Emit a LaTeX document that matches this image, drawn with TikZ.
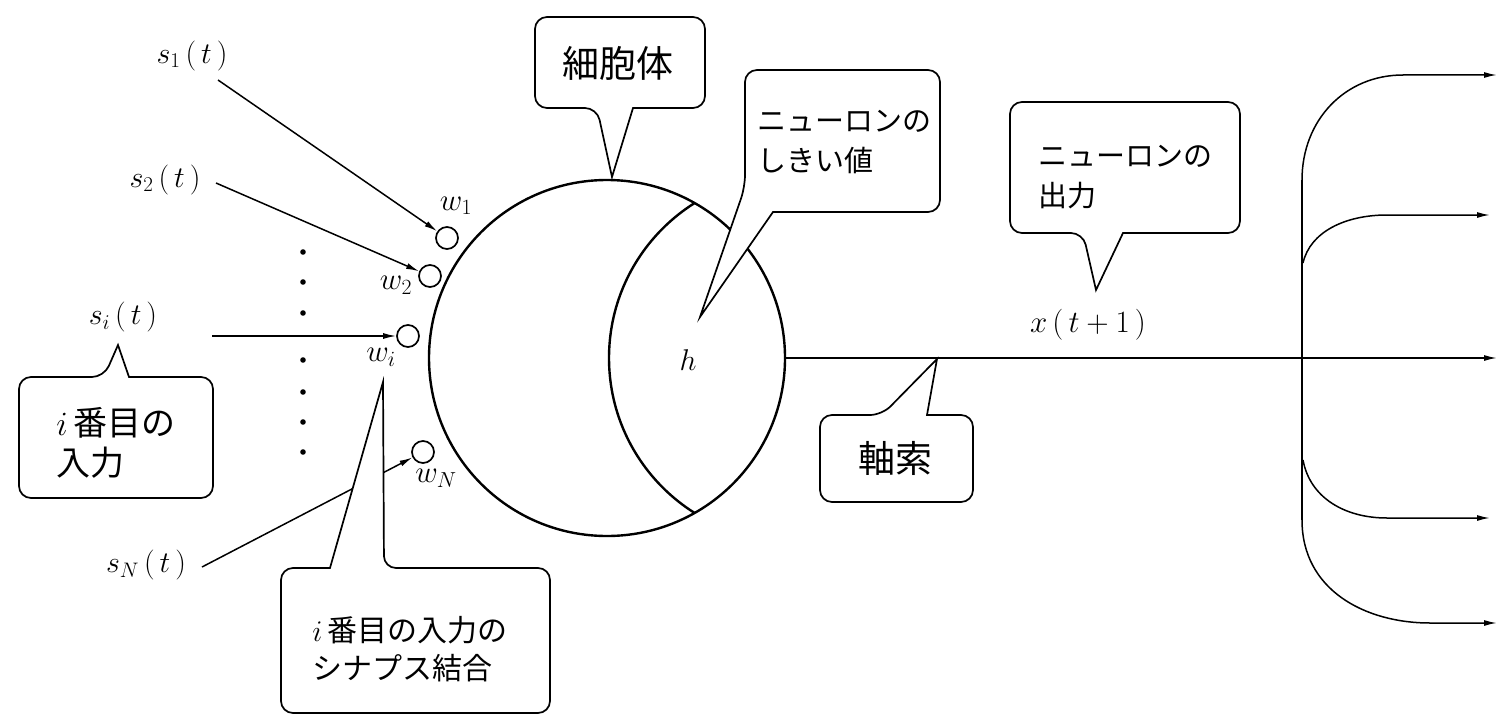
\documentclass[tikz,border=0pt]{standalone}
\usepackage{fix-cm}
\usepackage{fontspec}
\newfontfamily\jp{Noto Sans CJK JP}
\usetikzlibrary{arrows.meta}
\tikzset{
  lbl/.style={inner sep=0pt, font=\fontsize{30}{34}\selectfont},
  wlbl/.style={inner sep=0pt, font=\fontsize{31}{34}\selectfont},
  jtxt/.style={inner sep=0pt, align=left, font={\jp\fontsize{29}{40}\selectfont}},
  jbig/.style={inner sep=0pt, align=left, font={\jp\fontsize{37}{44}\selectfont}},
  callout/.style={draw, fill=white, line width=1.7pt},
  arr/.style={-{Latex[length=13pt,width=6pt]}, line width=1.5pt},
  syn/.style={circle, draw, line width=1.7pt, minimum size=22pt, inner sep=0pt},
  thick2/.style={line width=2.4pt}
}
\begin{document}
\begin{tikzpicture}[x=1pt,y=-1pt]
\useasboundingbox (0,0) rectangle (1505,717);

% soma and threshold arc
\node[circle, draw, thick2, minimum size=356pt, inner sep=0pt] (soma) at (607,358) {};
\begin{scope}
  \clip (607,358) circle (178pt);
  \draw[thick2] (792,358) circle (183pt);
\end{scope}
\node[lbl] (h) at (688,360) {$h$};

% output coordinates
\coordinate (o1) at (1497,75);
\coordinate (o2) at (1490,215);
\coordinate (o3) at (1497,358);
\coordinate (o4) at (1490,518);
\coordinate (o5) at (1497,623);
\coordinate (trtop) at (1302,180);
\coordinate (trbot) at (1302,520);
\coordinate (b2) at (1303,263);
\coordinate (b4) at (1303,460);
\coordinate (c1) at (1403,75);
\coordinate (c2) at (1387,215);
\coordinate (c4) at (1387,518);
\coordinate (c5) at (1430,623);

% axon
\draw[arr] (soma.east) -- (o3);
\node[lbl, font=\fontsize{31}{36}\selectfont] (xout) at (1088,325) {$x\,(\,t+1\,)$};

% branches
\draw[line width=1.5pt] (trtop) -- (trbot);
\draw[arr] (trtop) .. controls (1302,120) and (1345,75) .. (c1) -- (o1);
\draw[arr] (b2) .. controls (1310,232) and (1345,215) .. (c2) -- (o2);
\draw[arr] (b4) .. controls (1310,498) and (1345,518) .. (c4) -- (o4);
\draw[arr] (trbot) .. controls (1302,590) and (1365,623) .. (c5) -- (o5);

% synapses
\node[syn] (w1) at (447,238) {};
\node[syn] (w2) at (430,276) {};
\node[syn] (wi) at (408,336) {};
\node[syn] (wN) at (423,452) {};
\node[wlbl] (lw1) at (456,206) {$w_1$};
\node[wlbl] (lw2) at (396,285) {$w_2$};
\node[wlbl] (lwi) at (381,357) {$w_i$};
\node[wlbl] (lwN) at (436,478) {$w_N$};

% inputs
\node[lbl] (s1) at (192,56) {$s_1\,(\,t\,)$};
\node[lbl] (s2) at (165,180) {$s_2\,(\,t\,)$};
\node[lbl] (si) at (123,317) {$s_i\,(\,t\,)$};
\node[lbl] (sN) at (146,565) {$s_N\,(\,t\,)$};
\coordinate (s1a) at (218,80);
\coordinate (s2a) at (216,183);
\coordinate (sia) at (212,336);
\coordinate (sNa) at (202,567);
\draw[arr] (s1a) -- (w1);
\draw[arr] (s2a) -- (w2);
\draw[arr] (sia) -- (wi);
\draw[arr] (sNa) -- (wN);

% dots
\foreach \yy in {252,282,313,360,392,422,452}
  \fill (303,\yy) circle (2.8pt);

% callouts
\draw[callout] (633,108) [rounded corners=12pt] -- (705,108) -- (705,17) -- (535,17) -- (535,108) -- (597,108) [sharp corners] -- (612,177) -- cycle;
\node[jbig] (tsoma) at (618,63) {細胞体};

\draw[callout] (773,212) [rounded corners=12pt] -- (940,212) -- (940,70) -- (745,70) -- (745,187) [sharp corners] -- (700,317) -- cycle;
\node[jtxt] (tth) at (844,142) {ニューロンの\\しきい値};

\draw[callout] (1123,233) [rounded corners=12pt] -- (1240,233) -- (1240,102) -- (1010,102) -- (1010,233) -- (1083,233) [sharp corners] -- (1096,290) -- cycle;
\node[jtxt] (tout) at (1125,177) {ニューロンの\\出力};

\draw[callout] (927,415) [rounded corners=12pt] -- (973,415) -- (973,502) -- (820,502) -- (820,415) -- (882,415) [sharp corners] -- (937,359) -- cycle;
\node[jbig] (taxon) at (895,458) {軸索};

\draw[callout] (129,377) [rounded corners=12pt] -- (213,377) -- (213,498) -- (19,498) -- (19,377) -- (104,377) [sharp corners] -- (118,345) -- cycle;
\node[jtxt, font={\jp\fontsize{34}{40}\selectfont}] (tin) at (116,443) {$i$\,番目の\\入力};

\draw[callout] (330,568) [rounded corners=12pt] -- (281,568) -- (281,713) -- (550,713) -- (550,568) -- (384,568) [sharp corners] -- (383,382) -- cycle;
\node[jtxt, font={\jp\fontsize{30}{38}\selectfont}] (tsyn) at (410,649) {$i$\,番目の入力の\\シナプス結合};
\end{tikzpicture}
\end{document}
